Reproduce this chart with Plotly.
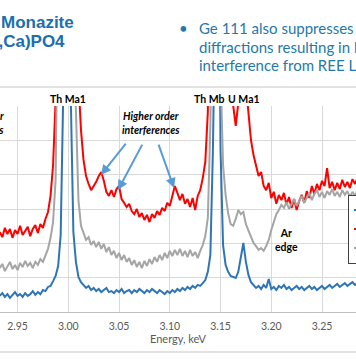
import plotly.graph_objects as go

# ---- data ----
energy_start_kev = 2.9325
channel_width_kev = 0.0025

series_names = ["Ge 111", "PETH", "LPET"]

blue_counts = [
    0.47, 0.55, 0.44, 0.52, 0.41, 0.50, 0.58, 0.47, 0.52, 0.44,
    0.55, 0.47, 0.52, 0.61, 0.50, 0.58, 0.52, 0.64, 0.61, 0.73,
    0.76, 0.90, 1.05, 1.34, 2.24, 6.32, 14.0, 15.0, 6.18, 2.33,
    1.46, 1.02, 0.87, 0.79, 0.70, 0.76, 0.64, 0.70, 0.61, 0.67,
    0.58, 0.64, 0.70, 0.58, 0.61, 0.55, 0.64, 0.58, 0.67, 0.55,
    0.61, 0.64, 0.55, 0.64, 0.58, 0.67, 0.61, 0.55, 0.64, 0.58,
    0.67, 0.61, 0.55, 0.64, 0.58, 0.52, 0.61, 0.55, 0.64, 0.58,
    0.67, 0.61, 0.70, 0.64, 0.73, 0.67, 0.76, 0.70, 0.79, 0.76,
    0.84, 0.93, 1.17, 1.66, 4.72, 14.0, 14.5, 4.72, 1.95, 1.37,
    1.17, 1.05, 1.02, 0.99, 1.17, 1.66, 2.01, 1.46, 1.08, 0.87,
    0.79, 0.70, 0.76, 0.67, 0.79, 0.70, 0.96, 0.67, 0.73, 0.64,
    0.76, 0.70, 0.79, 0.67, 0.73, 0.64, 0.70, 0.76, 0.67, 0.73,
    0.64, 0.70, 0.76, 0.67, 0.73, 0.64, 0.70, 0.76, 0.67, 0.73,
    0.79, 0.70, 0.76, 0.82, 0.73, 0.79, 0.84, 0.76, 0.82, 0.87,
    0.79, 0.84,
]

red_counts = [
    2.33, 2.18, 2.45, 2.27, 2.42, 2.16, 2.39, 2.27, 2.51, 2.24,
    2.36, 2.48, 2.21, 2.42, 2.53, 2.30, 2.56, 2.45, 2.71, 2.91,
    3.38, 4.28, 6.18, 10.0, 20.0, 35.0, 50.0, 50.0, 35.0, 20.0,
    10.0, 6.76, 5.30, 4.43, 3.96, 3.73, 3.55, 3.67, 3.79, 3.96,
    4.08, 3.82, 3.50, 3.38, 3.55, 3.35, 3.58, 3.67, 3.29, 3.18,
    3.06, 3.15, 2.94, 2.85, 3.00, 2.77, 2.88, 2.68, 2.83, 2.62,
    2.85, 2.74, 2.94, 2.83, 3.03, 2.94, 3.18, 3.09, 3.38, 3.67,
    3.47, 3.26, 3.44, 3.15, 3.29, 3.06, 3.32, 2.97, 3.38, 3.55,
    3.90, 4.37, 5.83, 10.0, 20.0, 40.0, 40.0, 20.0, 10.0, 8.0,
    7.2, 6.6, 5.94, 5.42, 6.09, 8.0, 9.0, 6.61, 5.74, 5.01,
    4.57, 4.25, 3.96, 4.08, 3.67, 3.55, 3.76, 3.32, 3.50, 3.15,
    3.41, 3.26, 3.47, 3.12, 3.35, 3.03, 3.29, 2.97, 3.23, 3.41,
    3.18, 3.52, 3.32, 3.67, 3.44, 3.73, 3.55, 3.82, 3.67, 4.19,
    3.61, 3.79, 3.55, 3.76, 3.58, 3.85, 3.64, 3.79, 3.61, 3.87,
    3.73, 3.90,
]

gray_counts = [
    1.28, 1.40, 1.19, 1.34, 1.46, 1.25, 1.37, 1.22, 1.43, 1.31,
    1.49, 1.34, 1.43, 1.28, 1.46, 1.37, 1.54, 1.46, 1.66, 1.84,
    2.16, 2.62, 3.85, 5.88, 12.0, 25.0, 35.0, 35.0, 25.0, 12.0,
    5.88, 3.26, 2.51, 2.33, 2.10, 2.18, 1.95, 2.07, 1.89, 2.04,
    1.84, 1.98, 1.75, 1.89, 1.66, 1.78, 1.57, 1.72, 1.51, 1.66,
    1.46, 1.57, 1.37, 1.51, 1.31, 1.46, 1.28, 1.49, 1.34, 1.54,
    1.40, 1.60, 1.46, 1.66, 1.51, 1.72, 1.57, 1.78, 1.63, 1.81,
    1.66, 1.84, 1.63, 1.78, 1.60, 1.81, 1.63, 1.75, 1.57, 1.78,
    1.95, 2.21, 2.74, 5.45, 7.34, 20.0, 20.0, 7.05, 4.28, 3.41,
    2.88, 2.56, 2.51, 2.71, 2.97, 2.85, 2.91, 2.56, 2.39, 2.18,
    2.01, 1.92, 1.81, 1.86, 1.78, 1.92, 2.10, 2.39, 2.62, 2.85,
    2.97, 3.12, 3.03, 3.20, 3.00, 3.15, 3.29, 3.09, 3.26, 3.38,
    3.18, 3.35, 3.47, 3.26, 3.44, 3.55, 3.35, 3.50, 3.32, 3.52,
    3.41, 3.58, 3.38, 3.50, 3.35, 3.55, 3.41, 3.52, 3.35, 3.50,
    3.38, 3.55,
]

x_tick_values = [2.95, 3.00, 3.05, 3.10, 3.15, 3.20, 3.25]
x_tick_labels = ["2.95", "3.00", "3.05", "3.10", "3.15", "3.20", "3.25"]

peak_labels = ["Th Ma1", "Th Mb", "U Ma1"]
peak_label_energies = [2.9997, 3.1387, 3.1731]

arrow_tip_energies = [3.0322, 3.0490, 3.1042]
arrow_tip_counts = [3.99, 3.55, 3.61]

bullet_lines = ["Ge 111 also suppresses higher order",
                "diffractions resulting in less",
                "interference from REE L lines"]

# channel energies from the spectrometer calibration
energy_kev = [round(energy_start_kev + i * channel_width_kev, 4) for i in range(len(blue_counts))]

colors = ["#2E75B6", "#FF0000", "#A5A5A5"]
chart_font = "Lato, 'Liberation Sans', sans-serif"

fig = go.Figure()
for name, ys, col in zip(series_names, [blue_counts, red_counts, gray_counts], colors):
    fig.add_trace(go.Scatter(x=energy_kev, y=ys, mode="lines", name=name,
                             line=dict(color=col, width=2)))

W, H = 356, 364
PLOT_TOP, PLOT_BOTTOM = 106, 312
PH = PLOT_BOTTOM - PLOT_TOP


def py(pix_y):
    """convert a pixel row of the figure into paper y"""
    return (PLOT_BOTTOM - pix_y) / PH


fig.update_layout(
    width=W, height=H,
    margin=dict(l=0, r=0, t=PLOT_TOP, b=H - PLOT_BOTTOM, autoexpand=False),
    paper_bgcolor="white", plot_bgcolor="white",
    font=dict(family=chart_font, color="#595959"),
    showlegend=True,
    legend=dict(x=348 / W, xanchor="left", y=py(229), yanchor="middle",
                bordercolor="#404040", borderwidth=1, bgcolor="white",
                font=dict(size=10, color="#595959")),
)
fig.update_xaxes(range=[2.9327, 3.2835], tickvals=x_tick_values, ticktext=x_tick_labels,
                 showgrid=True, gridcolor="#D9D9D9", gridwidth=1,
                 showline=True, linecolor="#BFBFBF", linewidth=1,
                 zeroline=False, ticks="", ticklabelstandoff=4,
                 tickfont=dict(size=10.5, color="#595959"),
                 title=dict(text="Energy, keV", font=dict(size=11, color="#595959"), standoff=4))
fig.update_yaxes(range=[0, 6], dtick=1, showgrid=True, gridcolor="#D9D9D9", gridwidth=1,
                 zeroline=False, showticklabels=False, ticks="")

# slide separator and chart border lines
fig.add_shape(type="line", xref="paper", yref="paper", x0=0, x1=1, y0=py(87), y1=py(87),
              line=dict(color="#D9D9D9", width=1.5))
fig.add_shape(type="line", xref="paper", yref="paper", x0=0, x1=1, y0=py(352), y1=py(352),
              line=dict(color="#D9D9D9", width=1.5))

ann = []
bold_black = dict(family=chart_font, size=10.5, color="#000000")
for lab, e in zip(peak_labels, peak_label_energies):
    ann.append(dict(text="<b>%s</b>" % lab, x=e, xref="x", y=py(99), yref="paper",
                    showarrow=False, font=bold_black, xanchor="center", yanchor="middle"))
ann.append(dict(text="<b><i>Higher order<br>interferences</i></b>", x=3.0816, xref="x",
                y=py(123), yref="paper", showarrow=False, font=bold_black,
                xanchor="center", yanchor="middle", align="center"))
ann.append(dict(text="<b><i>Higher order<br>interferences</i></b>", x=6 / W, xref="paper",
                y=py(123), yref="paper", showarrow=False, font=bold_black,
                xanchor="right", yanchor="middle", align="right"))
ann.append(dict(text="<b>Ar<br>edge</b>", x=3.2155, xref="x", y=py(240), yref="paper",
                showarrow=False, font=bold_black, xanchor="center", yanchor="middle"))
for e, c, axp, ayp in zip(arrow_tip_energies, arrow_tip_counts, [26, 25, -16], [-33, -47, -45]):
    ann.append(dict(text="", x=e, y=c, xref="x", yref="y", showarrow=True,
                    ax=axp, ay=ayp, arrowcolor="#5B9BD5", arrowwidth=2,
                    arrowhead=2, arrowsize=1))

# slide title and bullet text (partly outside the cropped view)
title_font = dict(family="'Liberation Sans', Arial, sans-serif", size=17, color="#1B6FAE")
ann.append(dict(text="<b>Monazite</b>", x=-1.5 / W, xref="paper", y=py(23), yref="paper",
                showarrow=False, font=title_font, xanchor="left", yanchor="middle"))
ann.append(dict(text="<b>(Ce,La,Th,Ca)PO4</b>", x=67 / W, xref="paper", y=py(42),
                yref="paper", showarrow=False, font=title_font, xanchor="right", yanchor="middle"))
body_font = dict(family="Lato, Roboto, sans-serif", size=15, color="#2479A9")
ann.append(dict(text="•", x=183 / W, xref="paper", y=py(28), yref="paper",
                showarrow=False, font=body_font, xanchor="center", yanchor="middle"))
for line_text, line_y in zip(bullet_lines, [28, 46.5, 65]):
    ann.append(dict(text=line_text, x=197 / W, xref="paper", y=py(line_y), yref="paper",
                    showarrow=False, font=body_font, xanchor="left", yanchor="middle"))

fig.update_layout(annotations=ann)

fig.write_html("out.html", config={"displayModeBar": False},
               post_script="document.body.style.margin='0';document.body.style.overflow='hidden';")
